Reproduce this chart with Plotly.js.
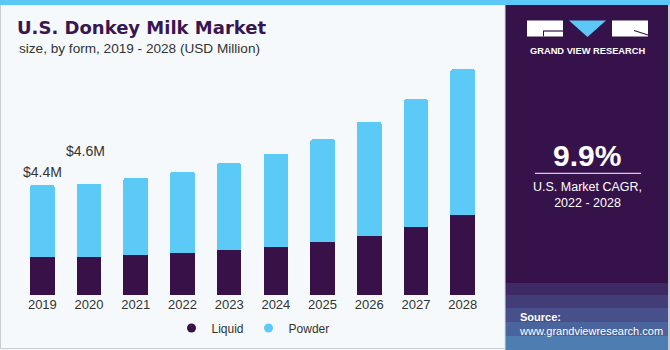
<!DOCTYPE html>
<html>
<head>
<meta charset="utf-8">
<script src="https://cdn.plot.ly/plotly-3.0.1.min.js"></script>
<style>html,body{margin:0;padding:0;background:#F5F9FC;}#chart{width:670px;height:350px;}</style>
</head>
<body>
<div id="chart"></div>
<script>
// ---- data (USD Million) ----
const years = ['2019','2020','2021','2022','2023','2024','2025','2026','2027','2028'];
const liquid = [1.52, 1.53, 1.61, 1.69, 1.80, 1.93, 2.13, 2.37, 2.71, 3.19];
const powder = [2.88, 2.92, 3.08, 3.24, 3.47, 3.71, 4.10, 4.56, 5.12, 5.84];
const seriesNames = ['Liquid', 'Powder'];
const valueLabels = ['&#36;4.4M', '&#36;4.6M'];
const labelYears = ['2019', '2020'];
const cagrText = '9.9%';
const cagrCaption = 'U.S. Market CAGR,<br>2022 - 2028';

// ---- styling ----
const C_LIQ = '#371148';
const C_POW = '#5CCAF6';
const C_PANEL = '#36124A';
const W = 670, H = 350;
const M = {l: 19, r: 184, t: 60, b: 55, autoexpand: false};
const PW = W - M.l - M.r, PH = H - M.t - M.b;
const PX = x => (x - M.l) / PW;
const PY = y => (H - M.b - y) / PH;

const totals = liquid.map((v, i) => v + powder[i]);

const traces = [
  {type: 'bar', x: years, y: liquid, name: seriesNames[0], marker: {color: C_LIQ}, showlegend: false, hoverinfo: 'skip'},
  {type: 'bar', x: years, y: powder, name: seriesNames[1], marker: {color: C_POW}, showlegend: false, hoverinfo: 'skip'},
  {type: 'scatter', mode: 'markers', x: [null], y: [null], name: seriesNames[0], marker: {color: C_LIQ, size: 9, symbol: 'circle'}},
  {type: 'scatter', mode: 'markers', x: [null], y: [null], name: seriesNames[1], marker: {color: C_POW, size: 9, symbol: 'circle'}}
];

const rect = (x0, y0, x1, y1, fill, extra) => Object.assign({
  type: 'rect', xref: 'paper', yref: 'paper', x0: PX(x0), x1: PX(x1), y0: PY(y0), y1: PY(y1),
  fillcolor: fill, line: {width: 0}, layer: 'below'
}, extra || {});
const line = (x0, y0, x1, y1, color, w) => ({
  type: 'line', xref: 'paper', yref: 'paper', x0: PX(x0), x1: PX(x1), y0: PY(y0), y1: PY(y1),
  line: {color: color, width: w}, layer: 'above'
});

const shapes = [
  rect(505, 0, 670, 350, C_PANEL),
  rect(505, 283, 670, 350, 'rgba(92,150,220,0.18)'),
  rect(505, 295, 670, 350, 'rgba(92,160,225,0.16)'),
  rect(505, 308, 670, 350, 'rgba(92,170,230,0.18)'),
  rect(505, 322, 670, 350, 'rgba(92,185,235,0.2)'),
  rect(505, 336, 670, 350, 'rgba(92,200,245,0.25)'),
  rect(0, 0, 670, 5, '#5BC8F5', {layer: 'above'}),
  line(0.5, 5, 0.5, 348, '#c9ccd0', 1),
  line(0, 348.5, 505, 348.5, '#c9ccd0', 1),
  line(505, 5, 505, 350, '#d8dde2', 1),
  line(669, 5, 669, 350, '#c9ccd0', 2),
  // logo
  rect(527, 20.5, 563, 36.5, '#FFFFFF', {layer: 'above'}),
  {type: 'path', xref: 'paper', yref: 'paper', layer: 'above',
   path: `M ${PX(569)} ${PY(20.5)} L ${PX(606)} ${PY(20.5)} L ${PX(587.5)} ${PY(37)} Z`,
   fillcolor: '#5BC8F5', line: {width: 0}},
  rect(612, 20.5, 648, 36.5, '#FFFFFF', {layer: 'above'}),
  line(543, 31, 563, 31, C_PANEL, 1.2),
  line(543.5, 31, 543.5, 36.5, C_PANEL, 1),
  line(634, 30.5, 648, 35, C_PANEL, 1.2),
  // cagr divider
  line(535, 173.3, 641, 173.3, '#FFFFFF', 1)
];

const annotations = [
  {text: 'size, by form, 2019 - 2028 (USD Million)', xref: 'paper', yref: 'paper', x: PX(17), y: PY(48.5),
   xanchor: 'left', yanchor: 'middle', showarrow: false, font: {family: 'Liberation Sans, Arial, sans-serif', size: 13.6, color: '#333333'}},
  {text: 'GRAND VIEW RESEARCH', xref: 'paper', yref: 'paper', x: PX(587.5), y: PY(50.7),
   xanchor: 'center', yanchor: 'middle', showarrow: false, font: {family: 'Liberation Sans, Arial, sans-serif', size: 9.3, color: '#FFFFFF', weight: 'bold'}},
  {text: '<b>' + cagrText + '</b>', xref: 'paper', yref: 'paper', x: PX(587), y: PY(155),
   xanchor: 'center', yanchor: 'middle', showarrow: false, font: {family: 'Liberation Sans, Arial, sans-serif', size: 30, color: '#FFFFFF'}},
  {text: cagrCaption, xref: 'paper', yref: 'paper', x: PX(587), y: PY(195),
   xanchor: 'center', yanchor: 'middle', showarrow: false, align: 'center',
   font: {family: 'Liberation Sans, Arial, sans-serif', size: 12.5, color: '#FFFFFF'}},
  {text: '<b>Source:</b><br>www.grandviewresearch.com', xref: 'paper', yref: 'paper', x: PX(517), y: PY(323.5),
   xanchor: 'left', yanchor: 'middle', showarrow: false, align: 'left',
   font: {family: 'Liberation Sans, Arial, sans-serif', size: 11, color: '#FFFFFF'}}
];

const labelShifts = [[0, 13], [-3.5, 33]];
labelYears.forEach((yr, i) => {
  const idx = years.indexOf(yr);
  annotations.push({text: valueLabels[i], x: idx, y: totals[idx], xref: 'x', yref: 'y',
    xanchor: 'center', yanchor: 'middle', showarrow: false, xshift: labelShifts[i][0], yshift: labelShifts[i][1],
    font: {family: 'Liberation Sans, Arial, sans-serif', size: 14, color: '#333333'}});
});

const layout = {
  width: W, height: H,
  margin: M,
  paper_bgcolor: '#F5F9FC',
  plot_bgcolor: 'rgba(0,0,0,0)',
  barmode: 'stack',
  bargap: 0.475,
  barcornerradius: 2,
  title: {text: 'U.S. Donkey Milk Market', x: 17 / W, xanchor: 'left', xref: 'container', yref: 'container',
          y: 1 - 28 / H, yanchor: 'middle',
          font: {family: 'DejaVu Sans, sans-serif', size: 18, color: '#3A1650', weight: 'bold'}},
  xaxis: {type: 'category', showgrid: false, zeroline: false, showline: false, ticks: '',
          automargin: false,
          tickfont: {family: 'Liberation Sans, Arial, sans-serif', size: 13, color: '#333333'},
          range: [-0.5, 9.5], fixedrange: true},
  yaxis: {range: [0, PH / 25], showgrid: false, zeroline: false, showline: false, showticklabels: false, ticks: '', fixedrange: true, automargin: false},
  legend: {orientation: 'h', x: PX(171.5), xanchor: 'left', y: PY(328), yanchor: 'middle',
           font: {family: 'Liberation Sans, Arial, sans-serif', size: 12, color: '#333333'},
           bgcolor: 'rgba(0,0,0,0)', traceorder: 'normal'},
  shapes: shapes,
  annotations: annotations,
  showlegend: true
};

Plotly.newPlot('chart', traces, layout, {displayModeBar: false, staticPlot: true});
</script>
</body>
</html>
